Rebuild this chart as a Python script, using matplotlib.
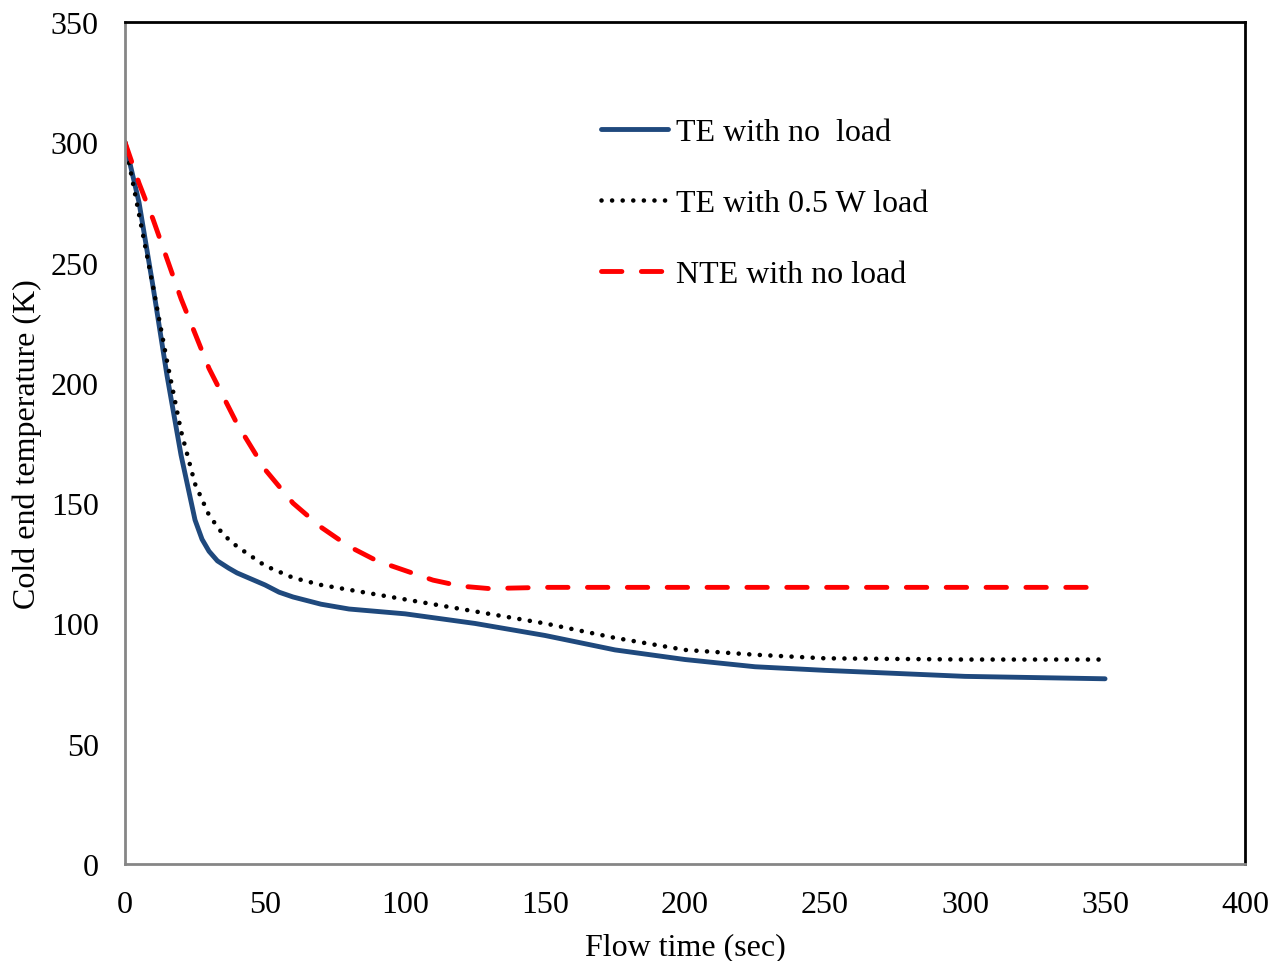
import numpy as np
import matplotlib.pyplot as plt

plt.rcParams['font.family'] = ['Liberation Serif', 'DejaVu Serif']

# Flow time (s) and cold end temperature (K)
t_te = [0, 5, 10, 15, 20, 25, 27.5, 30, 33, 37, 40, 45, 50, 55, 60, 70, 80, 100, 125, 150, 175, 200, 225, 250, 300, 350]
T_te = [300, 275, 240, 203, 170, 143, 135, 130, 126, 123, 121, 118.5, 116, 113, 111, 108, 106, 104, 100, 95, 89, 85, 82, 80.5, 78, 77]

t_load = [0, 5, 10, 15, 20, 25, 30, 35, 40, 45, 50, 60, 70, 80, 100, 125, 150, 175, 200, 225, 250, 300, 350]
T_load = [300, 270, 240, 209, 180, 158, 145, 137, 132, 128, 124, 119, 116, 114, 110, 105, 100, 94, 89, 87, 85.5, 85, 85]

t_nte = [0, 5, 10, 20, 30, 40, 50, 60, 70, 80, 90, 100, 110, 120, 130, 150, 200, 250, 300, 350]
T_nte = [300, 283, 268, 235, 206, 183, 164, 150, 140, 132, 126, 122, 118, 115.5, 114.5, 115, 115, 115, 115, 115]

fig = plt.figure(figsize=(12.85, 9.62), dpi=100)
ax = fig.add_axes([0.0973, 0.1008, 0.8716, 0.8753])

ax.plot(t_te, T_te, color='#1f497d', lw=3.5, solid_capstyle='round', solid_joinstyle='round',
        label='TE with no  load')
ax.plot(t_load, T_load, color='black', lw=3.3, dashes=(0.01, 2.3), dash_capstyle='round',
        label='TE with 0.5 W load')
ax.plot(t_nte, T_nte, color='#ff0000', lw=3.5, dashes=(4.2, 4.0), dash_capstyle='round',
        label='NTE with no load')

ax.set_xlim(0, 400)
ax.set_ylim(0, 350)
ax.set_xticks(np.arange(0, 401, 50))
ax.set_yticks(np.arange(0, 351, 50))
ax.tick_params(axis='x', length=0, labelsize=23, pad=18.5)
ax.tick_params(axis='y', length=0, labelsize=23, pad=19)
ax.set_xlabel('Flow time (sec)', fontsize=23, labelpad=10)
ax.set_ylabel('Cold end temperature (K)', fontsize=23, labelpad=6.5)

ax.spines['left'].set_color('#868686')
ax.spines['bottom'].set_color('#868686')
for s in ax.spines.values():
    s.set_linewidth(2)

ax.legend(loc='upper left', bbox_to_anchor=(0.399, 0.92), frameon=False, fontsize=23,
          handlelength=2.1, handletextpad=0.25, labelspacing=1.3)

fig.savefig('out.png')
